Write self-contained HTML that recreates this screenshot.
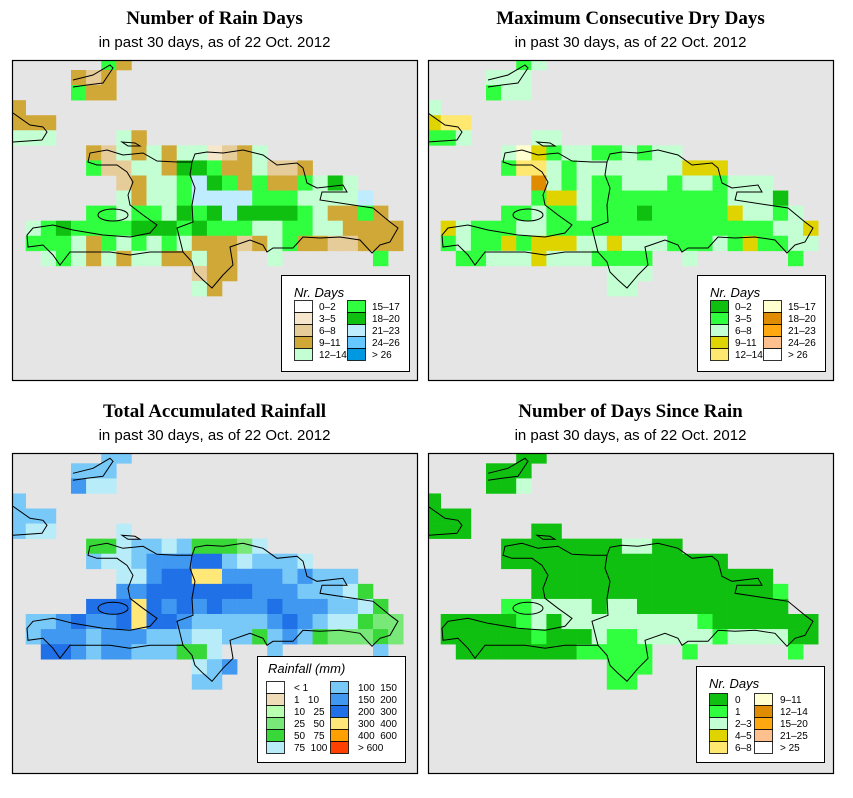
<!DOCTYPE html>
<html><head><meta charset="utf-8">
<style>
body{margin:0;background:#fff;}
svg text{font-family:"Liberation Sans",sans-serif;}
.t{font-family:"Liberation Serif",serif;font-weight:bold;font-size:19px;}
.s{font-size:15px;}
.lt{font-size:13px;font-style:italic;}
.ll{font-size:10px;}
</style></head>
<body>
<svg id="chart" width="853" height="793" xmlns="http://www.w3.org/2000/svg">
<defs>
<clipPath id="c1"><rect x="13" y="61" width="404" height="319"/></clipPath>
<clipPath id="c2"><rect x="429" y="61" width="404" height="319"/></clipPath>
<clipPath id="c3"><rect x="13" y="454" width="404" height="319"/></clipPath>
<clipPath id="c4"><rect x="429" y="454" width="404" height="319"/></clipPath>
<g id="coast" fill="none" stroke="#000" stroke-width="1">
<path d="M88,162 L90,153 107,150 123,155 143,153 157,161 177,162 192,162 195,154 207,152 223,153 243,150 263,155 277,165 297,163 303,168 307,183 317,188 343,185 347,192 322,192 320,200 353,205 373,208 390,222 398,228 390,242 380,245 372,253 360,240 340,237 320,238 303,237 293,248 273,248 267,252 263,245 250,240 230,247 233,265 223,275 212,288 203,280 195,272 192,262 183,252 150,252 130,255 110,252 93,252 70,252 60,265 53,255 43,245 28,247 27,235 33,228 53,225 73,230 103,235 130,237 150,233 157,225 143,215 130,205 128,195 133,182 127,172 117,165 97,165 Z"/>
<path d="M192,162 L190,175 195,188 192,205 193,222 177,228 183,252"/>
<path d="M13,113 L30,125 43,127 47,132 42,140 13,142"/>
<path d="M73,80 L93,75 110,65 113,68 103,83 87,85 73,87"/>
<ellipse cx="113" cy="215" rx="15" ry="6"/>
<path d="M122,142 L135,143 140,146 128,146 Z"/>
</g>
</defs>
<g id="panels"></g>
</svg>
<script>
const rainDays = [
"......53","....323","....533","3","333","444....43",
".....324343441234",
".....522443665334223",
".......2344576535335464",
".......43445777755544447",
".....55455465676666543353",
".4565555666565554455443333",
".5554354545433323453322333",
"..4543434433433..4......5",
"............233","............43"];
const dryDays = [
"......12","....222","....122","2","344","112....22",
".....253122112122",
".....144212222222333",
".......6212112221221222",
".......13321111111112220",
".....11211211101111132212",
".3211122111111111111111223",
".1211313332232221112131122",
"..1122232221111..2......1",
"............222","............22"];
const rainfall = [
"......66","....666","....755","6","666","655....5",
".....445665644435",
".....655677788656665",
".......5578899777767666",
".......77888888877766654",
".....88898787877787776654",
".6678778988766666787655433",
".6777677766655664676433343",
"..887677666445...6......6",
"............567","............66"];
const sinceRain = [
"......00","....000","....002","0","000","000....00",
".....000000002200",
".....000000000000000",
".......0000000000000000",
".......00000000000000001",
".....1122220220000000000",
".0000012022222222210000000",
".0000001000211222221222200",
"..0000000011111..1......1",
"............111","............11"];
const colors1 = ["#ffffff","#f5e6cc","#e6cc99","#d0a838","#c4ffd4","#30ff40","#10c010","#c0ecff","#66c8ff","#0098e0"];
const labels1 = ["0–2","3–5","6–8","9–11","12–14","15–17","18–20","21–23","24–26","> 26"];
const colors2 = ["#10c010","#30ff40","#c4ffd4","#e0d400","#ffe870","#ffffd0","#e08c00","#ffa810","#ffc090","#ffffff"];
const labels2 = ["0–2","3–5","6–8","9–11","12–14","15–17","18–20","21–23","24–26","> 26"];
const colors3 = ["#ffffff","#f0dcb8","#b8ffb0","#78e878","#38d838","#b8ecf8","#78c8f8","#4098f0","#2070e8","#ffe878","#ffa000","#ff4000"];
const labels3 = ["< 1","1   10","10   25","25   50","50   75","75  100","100  150","150  200","200  300","300  400","400  600","> 600"];
const colors4 = colors2;
const labels4 = ["0","1","2–3","4–5","6–8","9–11","12–14","15–20","21–25","> 25"];
const titles = ["Number of Rain Days","Maximum Consecutive Dry Days","Total Accumulated Rainfall","Number of Days Since Rain"];
const subtitle = "in past 30 days, as of  22 Oct. 2012";

const NS="http://www.w3.org/2000/svg";
const root=document.getElementById('panels');
function mk(tag,attrs,parent){const e=document.createElementNS(NS,tag);for(const k in attrs)e.setAttribute(k,attrs[k]);(parent||root).appendChild(e);return e;}
const CW=15.1, CH=15.07;
function xs(px,c){return px+10.6+c*CW;}
function ys(py,r){return py+54.93+r*CH;}

const panels=[
 {grid:rainDays,cols:colors1,labs:labels1,px:0,py:0,clip:"c1",lt:"Nr. Days",key:"rain-days"},
 {grid:dryDays,cols:colors2,labs:labels2,px:415,py:0,clip:"c2",lt:"Nr. Days",key:"dry-days"},
 {grid:rainfall,cols:colors3,labs:labels3,px:0,py:393.3,clip:"c3",lt:"Rainfall (mm)",key:"rainfall"},
 {grid:sinceRain,cols:colors4,labs:labels4,px:415,py:393.3,clip:"c4",lt:"Nr. Days",key:"days-since-rain"}];

panels.forEach((p,i)=>{
  const fx=i%2?428:12, fy=i<2?60:453, cx=fx+202.5;
  const g=mk('g',{});
  
  
  const t=mk('text',{x:cx,y:fy-36,'text-anchor':'middle',class:'t'},g);t.textContent=titles[i];
  
  
  const st=mk('text',{x:cx,y:fy-13,'text-anchor':'middle',class:'s'},g);st.textContent=subtitle;
  
  
  const bg=mk('rect',{x:fx+0.5,y:fy+0.5,width:405,height:320,fill:'#e5e5e5',stroke:'none'},g);
  
  
  const cg=mk('g',{'clip-path':'url(#'+p.clip+')'},g);
  
  
  p.grid.forEach((row,r)=>{
    for(let c=0;c<row.length;c++){
      const ch=row[c]; if(ch==='.'||ch===' ')continue;
      const v=parseInt(ch,16);
      const cell=mk('rect',{x:xs(p.px,c),y:ys(p.py,r),width:CW+0.3,height:CH+0.3,fill:p.cols[v]},cg);
      
      
    }
  });
  const coastG=mk('g',{'clip-path':'url(#'+p.clip+')'},g);
  
  
  const co=mk('use',{href:'#coast',transform:'translate('+p.px+','+p.py+')'},coastG);
  
  
  const fr=mk('rect',{x:fx+0.5,y:fy+0.5,width:405,height:320,fill:'none',stroke:'#000','stroke-width':1.2},g);
  
  
  let L;
  if(i===2) L={x:257,y:656,w:148,h:106,tx:268,ty:673,s1:266,s2:330,r0:681,rh:12,lbl:28,n:6};
  else if(i===3) L={x:696,y:666,w:128,h:96,tx:709,ty:688,s1:709,s2:754,r0:693,rh:12,lbl:26,n:5};
  else L={x:281+(i?416:0),y:275,w:128,h:96,tx:294+(i?416:0),ty:297,s1:294+(i?416:0),s2:347+(i?416:0),r0:300,rh:12,lbl:25,n:5};
  const lg=mk('g',{},g);
  
  
  mk('rect',{x:L.x+0.5,y:L.y+0.5,width:L.w,height:L.h,fill:'#fff',stroke:'#000','stroke-width':1},lg);
  const ltt=mk('text',{x:L.tx,y:L.ty,class:'lt'},lg);ltt.textContent=p.lt;
  
  
  p.cols.forEach((col,k)=>{
    const colx=k<L.n?L.s1:L.s2, rr=k%L.n;
    const sw=mk('rect',{x:colx+0.5,y:L.r0+rr*L.rh+0.5,width:18,height:L.rh,fill:col,stroke:'#000','stroke-width':0.8},lg);
    
    
    const tx=mk('text',{x:colx+L.lbl,y:L.r0+rr*L.rh+10,class:'ll'},lg);
    tx.setAttribute('style','white-space:pre');
    tx.textContent=p.labs[k];
    
    
  });
});
</script>
</body></html>
